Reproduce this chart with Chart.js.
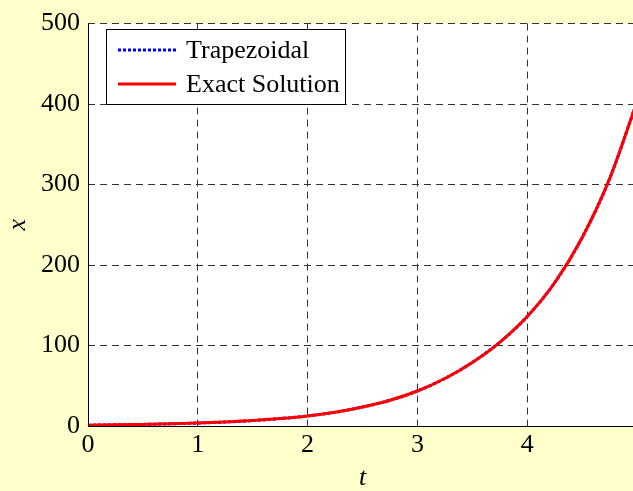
<!DOCTYPE html>
<html>
<head>
<meta charset="utf-8">
<title>Trapezoidal vs Exact Solution</title>
<script src="https://cdn.jsdelivr.net/npm/chart.js@4.4.1/dist/chart.umd.min.js"></script>
<style>
    html, body { margin: 0; padding: 0; background: #ffffcc; overflow: hidden; }
    #wrap { width: 645px; height: 491px; }
</style>
</head>
<body>
<div id="wrap"><canvas id="solChart" width="645" height="491"></canvas></div>
<script>
// Sample times and solution values
const tValues     = [0, 0.25, 0.5, 0.75, 1, 1.25, 1.5, 1.75, 2, 2.25, 2.5, 2.75, 3, 3.25, 3.5, 3.75, 4, 4.25, 4.5, 4.75, 5];
const exactValues = [1, 1.4, 2, 2.7, 3.7, 5, 6.7, 9.2, 12.5, 17, 23.5, 32, 43.5, 59, 79, 104, 136, 178, 234, 307, 403];
const trapValues  = [1, 1.4, 2, 2.7, 3.7, 5, 6.7, 9.2, 12.5, 17, 23.5, 32, 43.5, 59, 79, 104, 136, 178, 234, 307, 403];
const xTicks = [0, 1, 2, 3, 4];
const yTicks = [0, 100, 200, 300, 400, 500];

const serif = "'Liberation Serif', 'Times New Roman', serif";

function toPoints(ys) {
    return tValues.map((t, i) => ({ x: t, y: ys[i] }));
}

// Axis lines, axis titles and the boxed legend
const decorations = {
    id: 'decorations',
    afterDatasetsDraw(chart) {
        const ctx = chart.ctx;
        const area = chart.chartArea;
        ctx.save();
        ctx.strokeStyle = '#000';
        ctx.lineWidth = 1;
        ctx.setLineDash([]);
        ctx.beginPath();
        ctx.moveTo(area.left + 0.5, area.top);
        ctx.lineTo(area.left + 0.5, area.bottom + 0.5);
        ctx.lineTo(area.right, area.bottom + 0.5);
        ctx.stroke();

        // legend box
        const lx = 106, ly = 29, lw = 239, lh = 75;
        ctx.fillStyle = '#fff';
        ctx.fillRect(lx, ly, lw, lh);
        ctx.strokeRect(lx + 0.5, ly + 0.5, lw, lh);
        ctx.font = '26px ' + serif;
        ctx.textBaseline = 'middle';
        const rows = [50, 84];
        chart.data.datasets.forEach((ds, i) => {
            ctx.strokeStyle = ds.borderColor;
            ctx.lineWidth = ds.borderWidth;
            ctx.setLineDash(ds.borderDash || []);
            ctx.beginPath();
            ctx.moveTo(118, rows[i]);
            ctx.lineTo(176, rows[i]);
            ctx.stroke();
            ctx.fillStyle = '#000';
            ctx.fillText(ds.label, 186, rows[i] + 1);
        });

        // axis titles
        ctx.fillStyle = '#000';
        ctx.font = 'italic 26px ' + serif;
        ctx.textAlign = 'center';
        ctx.fillText('t', (area.left + area.right) / 2, 478);
        ctx.translate(18, (area.top + area.bottom) / 2);
        ctx.rotate(-Math.PI / 2);
        ctx.fillText('x', 0, 0);
        ctx.restore();
    }
};

const ctx = document.getElementById('solChart').getContext('2d');
const solChart = new Chart(ctx, {
    type: 'line',
    data: {
        datasets: [{
            label: 'Trapezoidal',
            data: toPoints(trapValues),
            borderColor: '#0000ff',
            borderWidth: 3,
            borderDash: [3, 2],
            pointRadius: 0,
            cubicInterpolationMode: 'monotone',
            order: 2
        }, {
            label: 'Exact Solution',
            data: toPoints(exactValues),
            borderColor: '#ff0000',
            borderWidth: 3,
            pointRadius: 0,
            cubicInterpolationMode: 'monotone',
            order: 1
        }]
    },
    options: {
        responsive: false,
        animation: false,
        events: [],
        layout: { padding: { left: 0, top: 16, right: 8, bottom: 0 } },
        plugins: {
            legend: { display: false },
            tooltip: { enabled: false }
        },
        scales: {
            x: {
                type: 'linear',
                min: 0,
                max: 5,
                afterFit: scale => { scale.height = 65; },
                afterBuildTicks: scale => { scale.ticks = xTicks.map(v => ({ value: v })); },
                ticks: {
                    color: '#000',
                    padding: 4,
                    font: { family: serif, size: 26 }
                },
                grid: { color: '#333', lineWidth: 1, drawTicks: false },
                border: { display: false, dash: [7, 5] }
            },
            y: {
                min: 0,
                max: 500,
                afterFit: scale => { scale.width = 88; },
                afterBuildTicks: scale => { scale.ticks = yTicks.map(v => ({ value: v })); },
                ticks: {
                    color: '#000',
                    padding: 8,
                    font: { family: serif, size: 26 }
                },
                grid: { color: '#333', lineWidth: 1, drawTicks: false },
                border: { display: false, dash: [7, 5] }
            }
        }
    },
    plugins: [{
        id: 'plotBackground',
        beforeDraw(chart) {
            const a = chart.chartArea;
            chart.ctx.save();
            chart.ctx.fillStyle = '#fff';
            chart.ctx.fillRect(a.left, a.top, a.right - a.left, a.bottom - a.top);
            chart.ctx.restore();
        }
    }, decorations]
});
</script>
</body>
</html>
